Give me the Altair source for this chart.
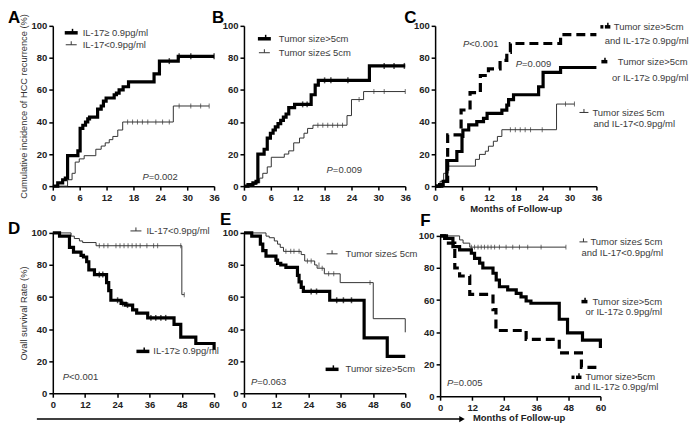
import altair as alt
import pandas as pd

# ---------------- data ----------------
# Panel A: cumulative incidence of recurrence, by IL-17
A_HI_T = [0, 1.1, 2.2, 2.8, 3.3, 5.6, 6.1, 6.7, 7.3, 7.8, 8.2, 10.0, 10.8, 11.3, 11.9, 13.7, 14.2, 14.8, 15.7, 16.9, 22.6, 23.8, 28.0, 36]
A_HI_V = [0, 2, 4, 5, 19, 22, 36, 38, 40, 42, 43, 48, 50, 53, 55, 57, 58, 60, 62, 65, 70, 78, 81, 81]
A_LO_T = [0, 3.3, 4.3, 5.0, 5.9, 7.0, 9.6, 10.8, 11.7, 12.6, 13.4, 14.5, 15.6, 26.9, 34.9]
A_LO_V = [0, 4, 8, 15, 17, 19, 23, 25, 27, 29, 31, 35, 40, 50, 50]
A_LO_CT = [16.7, 17.8, 18.9, 20.0, 21.2, 23.0, 24.5, 26.0, 28.2, 30.8, 33.0, 34.9]
A_LO_CV = [40, 40, 40, 40, 40, 40, 40, 40, 50, 50, 50, 50]
A_HI_CT = [26.0, 28.2, 30.8, 36.0]
A_HI_CV = [78, 81, 81, 81]

# Panel B: by tumor size
B_HI_T = [0, 0.9, 2.0, 2.7, 3.1, 4.5, 5.2, 5.9, 6.5, 7.0, 7.6, 8.2, 8.8, 9.4, 10.0, 11.3, 15.0, 15.9, 16.6, 28.0, 36]
B_HI_V = [0, 1, 2, 3, 20, 23, 30, 33, 35, 37, 39, 41, 43, 45, 49, 51, 57, 63, 66, 75, 75]
B_LO_T = [0, 1.3, 2.8, 3.5, 4.2, 5.2, 6.1, 9.0, 10.0, 11.1, 12.4, 13.4, 14.2, 15.4, 23.0, 24.0, 26.7, 36]
B_LO_V = [0, 1, 2, 5, 8, 12, 18, 20, 22, 27, 30, 33, 36, 38, 44, 54, 59, 59]
B_LO_CT = [16.5, 17.6, 18.7, 19.8, 20.9, 22.0, 25.7, 29.0, 31.3, 36.0]
B_LO_CV = [38, 38, 38, 38, 38, 38, 54, 59, 59, 59]
B_HI_CT = [13.1, 14.1, 18.0, 19.4, 23.2, 31.3, 33.5, 35.8]
B_HI_CV = [51, 51, 66, 66, 66, 75, 75, 75]

# Panel C: combined groups
C_AND_T = [0, 1.5, 2.8, 5.8, 7.8, 10.1, 11.9, 14.5, 16.0, 16.8, 28.0, 36]
C_AND_V = [0, 3, 32, 47.5, 58.3, 69, 73.2, 78.5, 83.5, 89, 94.5, 94.5]
C_OR_T = [0, 1.0, 1.8, 2.6, 4.85, 6.0, 6.2, 7.5, 9.3, 10.8, 11.6, 14.9, 16.0, 16.4, 17.5, 23.1, 24.1, 28.0, 36]
C_OR_V = [0, 1, 3, 16, 21.6, 31, 35, 38.2, 40.2, 42.3, 45.4, 47.4, 50.5, 54, 57, 62, 71, 74, 74]
C_LO_T = [0, 1.1, 1.9, 2.9, 9.0, 9.9, 11.2, 11.9, 13.0, 13.9, 14.9, 27.1, 31.1]
C_LO_V = [0, 3, 8, 12.5, 16.7, 19.8, 21.8, 24.9, 28, 31, 35.2, 51.2, 51.2]
C_LO_CT = [16.8, 17.9, 19.0, 20.1, 21.3, 23.9, 29.1, 31.1]
C_LO_CV = [35.2, 35.2, 35.2, 35.2, 35.2, 35.2, 51.2, 51.2]

# Panel D: overall survival by IL-17
D_LO_T = [0, 6.8, 8.0, 9.9, 11.1, 16.1, 48.0, 48.9]
D_LO_V = [100, 98, 96.5, 95, 94, 92, 61.5, 61.5]
D_LO_CT = [17.3, 19.0, 20.5, 23.5, 25.0, 26.5, 28.0, 29.5, 31.0, 32.5, 35.0, 37.5, 39.0, 47.6, 48.9]
D_LO_CV = [92, 92, 92, 92, 92, 92, 92, 92, 92, 92, 92, 92, 92, 92, 61.5]
D_HI_T = [0, 2.5, 6.2, 7.7, 10.5, 11.4, 12.6, 13.4, 15.5, 20.0, 20.8, 21.6, 25.4, 27.0, 29.7, 31.2, 35.3, 45.1, 47.6, 53.2, 60]
D_HI_V = [100, 98, 91, 88, 86, 85, 82, 77, 74, 69, 64, 58, 56, 55, 52, 50, 47, 43, 35, 31, 27]
D_HI_CT = [17.3, 18.6, 24.1, 26.0, 27.8, 36.5, 38.3, 40.2, 42.0]
D_HI_CV = [74, 74, 58, 56, 55, 47, 47, 47, 47]

# Panel E: overall survival by tumor size
E_LO_T = [0, 8.2, 9.4, 11.3, 12.5, 13.5, 14.7, 21.3, 22.6, 26.3, 27.2, 29.9, 35.8, 48.1, 60]
E_LO_V = [100, 98, 97, 95, 93, 91, 88.5, 86.5, 82.5, 80, 78, 74.5, 69, 46.5, 38]
E_LO_CT = [15.6, 17.4, 18.6, 20.5, 23.6, 25.0, 27.9, 29.1, 31.5, 33.4, 46.9]
E_LO_CV = [88.5, 88.5, 88.5, 88.5, 82.5, 82.5, 80, 78, 74.5, 74.5, 69]
E_HI_T = [0, 2.9, 6.1, 7.0, 8.2, 11.9, 12.5, 13.7, 15.6, 19.9, 20.5, 21.3, 22.1, 31.9, 44.7, 53.3, 60]
E_HI_V = [100, 98, 93, 89, 85.5, 83, 81, 80, 78.5, 73.5, 69.5, 66, 63.5, 58, 34.5, 23, 23]
E_HI_CT = [25.0, 27.0, 34.5, 37.0, 40.0]
E_HI_CV = [63.5, 63.5, 58, 58, 58]

# Panel F: overall survival, combined groups
F_LO_T = [0, 7.3, 8.6, 11.1, 47.1]
F_LO_V = [100, 97.5, 95.5, 93, 93]
F_LO_CT = [11.7, 12.9, 14.2, 15.4, 16.6, 17.9, 19.1, 20.4, 22.2, 24.7, 27.2, 29.7, 32.8, 37.8, 47.1]
F_LO_CV = [93] * 15
F_OR_T = [0, 1.7, 4.8, 7.3, 11.7, 12.9, 14.8, 16.0, 19.8, 21.0, 22.2, 25.3, 28.5, 30.3, 32.2, 34.0, 44.6, 47.7, 53.3, 60]
F_OR_V = [100, 98.5, 93.3, 91.3, 89.2, 86, 83, 80, 76.7, 72.5, 68.3, 66.3, 64.2, 62, 59.4, 58, 48, 39.5, 35, 30]
F_AND_T = [0, 2.4, 5.5, 7.3, 11.1, 19.8, 20.9, 32.2, 44.6, 52.9, 60]
F_AND_V = [100, 95.5, 80, 75, 63.5, 54, 41, 35.5, 27, 18, 18]

X36_TICKS = [0, 6, 12, 18, 24, 30, 36]
X60_TICKS = [0, 12, 24, 36, 48, 60]
Y_TICKS = [0, 20, 40, 60, 80, 100]

# ---------------- styling helpers ----------------
FONT = "Liberation Sans"
BLACK = "#000000"
THIN_C = "#333333"
TXT_C = "#3a3a3a"
THICK = 3.2
THIN = 1.0
DASH = [9, 5]
W = 162
H = 161
ONE = alt.Data(values=[{"k": 0}])


def xenc(maxv, ticks, title=None, rng=None):
    sc = dict(domain=[0, maxv], nice=False, zero=True)
    if rng:
        sc["range"] = rng
    return alt.X("t:Q", scale=alt.Scale(**sc),
                 axis=alt.Axis(values=ticks, titleFontWeight="bold", titleFontSize=9.5,
                               titlePadding=2, titleColor="#222222"),
                 title=title)


def yenc(title=None, rng=None, offset=0):
    sc = dict(domain=[0, 100], nice=False)
    if rng:
        sc["range"] = rng
    return alt.Y("v:Q", scale=alt.Scale(**sc),
                 axis=alt.Axis(values=Y_TICKS, titleFontWeight="normal", titleFontSize=9.3,
                               titlePadding=3, titleColor="#333333", offset=offset),
                 title=title)


def curve(t, v, xe, ye, w, color, dash=None):
    kw = dict(interpolate="step-after", strokeWidth=w, color=color, strokeCap="butt")
    if dash:
        kw["strokeDash"] = dash
    return alt.Chart(pd.DataFrame({"t": t, "v": v})).mark_line(**kw).encode(x=xe, y=ye)


def cens(t, v, xe, ye, color, size=5, th=1):
    return alt.Chart(pd.DataFrame({"t": t, "v": v})).mark_tick(
        orient="vertical", size=size, thickness=th, color=color).encode(x=xe, y=ye)


def text(s, x, y, size=9.5, align="left", weight="normal", style="normal",
         color=TXT_C, baseline="middle"):
    return alt.Chart(ONE).mark_text(text=s, align=align, baseline=baseline, fontSize=size,
                                    fontWeight=weight, fontStyle=style, font=FONT,
                                    color=color).encode(x=alt.value(x), y=alt.value(y))


def pval(rest, x, y):
    return [text("P", x, y, style="italic"), text(rest, x + 6.3, y)]


def letter(s, x, y):
    return text(s, x, y, size=17, weight="bold", color=BLACK, baseline="top")


def seg(x1, x2, y, w, color, dash=None):
    kw = dict(strokeWidth=w, color=color)
    if dash:
        kw["strokeDash"] = dash
    return alt.Chart(ONE).mark_rule(**kw).encode(x=alt.value(x1), x2=alt.value(x2), y=alt.value(y))


def vseg(x, y1, y2, w, color):
    return alt.Chart(ONE).mark_rule(strokeWidth=w, color=color).encode(
        x=alt.value(x), y=alt.value(y1), y2=alt.value(y2))


def sym_thick(x, y, L=13):
    return [seg(x, x + L, y, 3.5, BLACK), vseg(x + L * 0.6, y - 4, y, 1.5, BLACK)]


def sym_thin(x, y, L=11):
    return [seg(x, x + L, y, 1, THIN_C), vseg(x + L / 2, y - 3.5, y, 1, THIN_C)]


def sym_dash(x, y):
    return [seg(x, x + 3, y, 3.5, BLACK), seg(x + 4.5, x + 10, y, 3.5, BLACK),
            vseg(x + 7.5, y - 4, y, 1.5, BLACK)]


# ---------------- panels ----------------
# A
xa, ya = xenc(36, X36_TICKS), yenc("Cumulative incidence of HCC recurrence (%)")
panelA = alt.layer(
    curve(A_LO_T, A_LO_V, xa, ya, THIN, THIN_C),
    cens(A_LO_CT, A_LO_CV, xa, ya, THIN_C),
    curve(A_HI_T, A_HI_V, xa, ya, THICK, BLACK),
    cens(A_HI_CT, A_HI_CV, xa, ya, BLACK, 6, 1.5),
    *sym_thick(12, 7), text("IL-17≥ 0.9pg/ml", 30, 7),
    *sym_thin(13, 19), text("IL-17<0.9pg/ml", 30, 19),
    *pval("=0.002", 90, 152),
    letter("A", -45, -16),
).properties(width=W, height=H)

# B
xb, yb = xenc(36, X36_TICKS), yenc()
panelB = alt.layer(
    curve(B_LO_T, B_LO_V, xb, yb, THIN, THIN_C),
    cens(B_LO_CT, B_LO_CV, xb, yb, THIN_C),
    curve(B_HI_T, B_HI_V, xb, yb, THICK, BLACK),
    cens(B_HI_CT, B_HI_CV, xb, yb, BLACK, 6, 1.5),
    *sym_thick(14, 13), text("Tumor size>5cm", 35, 13),
    *sym_thin(15, 27), text("Tumor size≤ 5cm", 35, 27),
    *pval("=0.009", 83, 145),
    letter("B", -32, -16),
).properties(width=W, height=H)

# C
xc, yc = xenc(36, X36_TICKS, "Months of Follow-up"), yenc()
panelC = alt.layer(
    curve(C_LO_T, C_LO_V, xc, yc, THIN, THIN_C),
    cens(C_LO_CT, C_LO_CV, xc, yc, THIN_C),
    curve(C_OR_T, C_OR_V, xc, yc, THICK, BLACK),
    curve(C_AND_T, C_AND_V, xc, yc, THICK, BLACK, DASH),
    *pval("<0.001", 28, 18),
    *pval("=0.009", 81, 38),
    *sym_dash(166, 1), text("Tumor size>5cm", 214.5, 1, align="center"),
    text("and IL-17≥ 0.9pg/ml", 212.5, 15, align="center"),
    *sym_thick(167, 36, 6), text("Tumor size>5cm", 218.5, 36.5, align="center"),
    text("or IL-17≥ 0.9pg/ml", 216, 52.5, align="center"),
    *sym_thin(145, 87, 9), text("Tumor size≤ 5cm", 158, 87.5),
    text("and IL-17<0.9pg/ml", 159, 99),
    letter("C", -31, -16),
).properties(width=W, height=H)

# D
xd, yd = xenc(60, X60_TICKS), yenc("Ovall survival Rate (%)")
panelD = alt.layer(
    curve(D_LO_T, D_LO_V, xd, yd, THIN, THIN_C),
    cens(D_LO_CT, D_LO_CV, xd, yd, THIN_C),
    curve(D_HI_T, D_HI_V, xd, yd, THICK, BLACK),
    cens(D_HI_CT, D_HI_CV, xd, yd, BLACK, 6, 1.5),
    *sym_thin(78, -2), text("IL-17<0.9pg/ml", 94, -2),
    *sym_thick(84, 119), text("IL-17≥ 0.9pg/ml", 101, 119),
    *pval("<0.001", 10, 145),
    letter("D", -45, -12),
    # bottom arrow spanning the lower row
    alt.Chart(ONE).mark_rule(strokeWidth=1.5, color=BLACK).encode(
        x=alt.value(-16), x2=alt.value(410), y=alt.value(187)),
    alt.Chart(ONE).mark_point(shape="triangle-right", filled=True, size=40, color=BLACK,
                              opacity=1).encode(x=alt.value(411), y=alt.value(187)),
    text("Months of Follow-up", 422, 186, weight="bold", color="#222222"),
).properties(width=W, height=H)

# E
xe_, ye_ = xenc(60, X60_TICKS), yenc()
panelE = alt.layer(
    curve(E_LO_T, E_LO_V, xe_, ye_, THIN, THIN_C),
    cens(E_LO_CT, E_LO_CV, xe_, ye_, THIN_C),
    curve(E_HI_T, E_HI_V, xe_, ye_, THICK, BLACK),
    cens(E_HI_CT, E_HI_CV, xe_, ye_, BLACK, 6, 1.5),
    *sym_thin(83, 21), text("Tumor size≤ 5cm", 102, 21),
    *sym_thick(82, 137), text("Tumor size>5cm", 102, 137),
    *pval("=0.063", 7, 150),
    letter("E", -24, -21),
).properties(width=W, height=H)

# F (plot area shifted 5px right and 3px down inside its cell, as in the figure)
xf = xenc(60, X60_TICKS, rng=[5, 166])
yf = yenc(rng=[164, 3], offset=-5)
panelF = alt.layer(
    curve(F_LO_T, F_LO_V, xf, yf, THIN, THIN_C),
    cens(F_LO_CT, F_LO_CV, xf, yf, THIN_C),
    curve(F_OR_T, F_OR_V, xf, yf, THICK, BLACK),
    curve(F_AND_T, F_AND_V, xf, yf, THICK, BLACK, DASH),
    *sym_thin(145, 9, 8), text("Tumor size≤ 5cm", 156, 9),
    text("and IL-17<0.9pg/ml", 147, 20),
    *sym_thick(147, 69, 6), text("Tumor size>5cm", 158, 69),
    text("or IL-17≥ 0.9pg/ml", 151, 79),
    *sym_dash(137, 145), text("Tumor size>5cm", 151, 145),
    text("and IL-17≥ 0.9pg/ml", 140, 155),
    *pval("=0.005", 12, 151),
    letter("F", -15, -20),
).properties(width=166, height=164)

chart = alt.concat(
    panelA, panelB, panelC, panelD, panelE, panelF,
    columns=3, spacing={"row": 47, "column": 30}, bounds="flush",
).properties(
    padding={"left": 0, "top": 0, "right": 0, "bottom": 0},
    background="white",
).configure_view(stroke=None).configure_axis(
    grid=False,
    domainColor=BLACK,
    domainWidth=1.5,
    tickColor=BLACK,
    tickWidth=1.5,
    tickSize=4,
    labelFont=FONT,
    labelFontSize=9.5,
    labelFontWeight="bold",
    labelColor="#222222",
    labelPadding=2,
    labelFlush=False,
    titleFont=FONT,
)

chart.save("out.html", embed_options={"renderer": "svg", "actions": False})
